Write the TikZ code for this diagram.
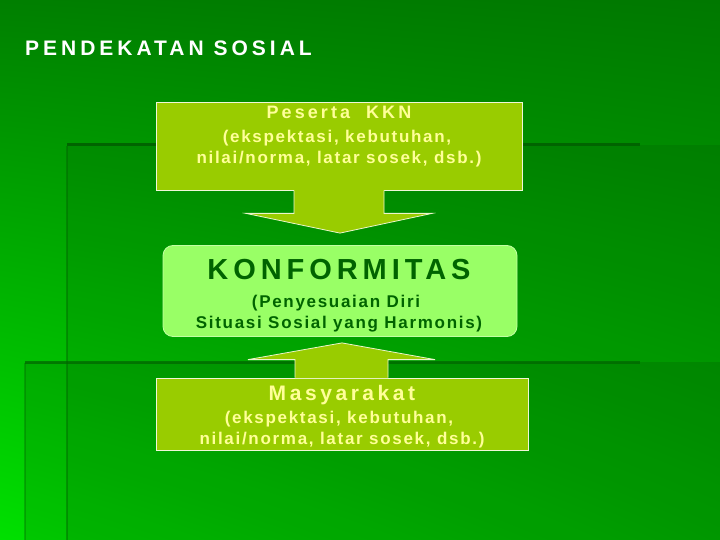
\documentclass[tikz,border=0pt]{standalone}
\usepackage{fontspec}
\setmainfont{Liberation Sans}
\newfontfamily\titlefnt[LetterSpace=19]{Liberation Sans}
\newfontfamily\headfnt[LetterSpace=17]{Liberation Sans}
\newfontfamily\subfnt[LetterSpace=10]{Liberation Sans}
\usetikzlibrary{calc,shadings}
\definecolor{boxfill}{HTML}{99CC00}
\definecolor{konffill}{HTML}{99FF66}
\definecolor{ytext}{HTML}{FFFF99}
\definecolor{gtext}{HTML}{006400}
\definecolor{bgTL}{HTML}{007F00}
\definecolor{bgTR}{HTML}{007800}
\definecolor{bgBL}{HTML}{00E000}
\definecolor{bgBR}{HTML}{00B800}
\definecolor{decoline}{HTML}{006400}
\tikzset{
  infobox/.style={rectangle, fill=boxfill, draw=white!85!boxfill, line width=0.8pt, inner sep=0pt},
  konfbox/.style={rectangle, rounded corners=10pt, fill=konffill, draw=white!40!konffill, line width=0.8pt, inner sep=0pt},
  ylabel/.style={text=ytext, inner sep=0pt, anchor=base, font=\bfseries},
  glabel/.style={text=gtext, inner sep=0pt, anchor=base, font=\bfseries},
  blockfill/.style={fill=boxfill},
  blockedge/.style={draw=white!80!boxfill, line width=0.8pt, line join=miter},
}
\begin{document}
\begin{tikzpicture}[x=1pt,y=-1pt]
\useasboundingbox (0,0) rectangle (720,540);
% background
\shade[upper left=bgTL, upper right=bgTR, lower left=bgBL, lower right=bgBR] (0,0) rectangle (720,540);
\fill[black, opacity=0.08] (67,145) rectangle (720,540);
\fill[black, opacity=0.10] (25,362) rectangle (720,540);
\draw[decoline, line width=3pt] (67,145) -- (640,145);
\draw[decoline, opacity=0.45, line width=2pt] (67,146) -- (67,540);
\draw[decoline, opacity=0.7, line width=3pt] (25,362) -- (640,362);
\draw[decoline, opacity=0.35, line width=2pt] (25,363) -- (25,540);

% title
\node[text=white, inner sep=0pt, anchor=base west, font=\bfseries] (title) at (25,56) {\titlefnt\fontsize{21}{24}\selectfont PENDEKATAN SOSIAL};

% boxes
\node[infobox, minimum width=366pt, minimum height=88pt] (top) at (339,146) {};
\node[konfbox, minimum width=354pt, minimum height=91pt] (konf) at (340,291) {};
\node[infobox, minimum width=372pt, minimum height=72pt] (bot) at (342,414) {};

% down arrow
\fill[blockfill] ($(top.south)+(-45,-0.5)$) -- ($(top.south)+(-45,23)$) -- ($(top.south)+(-93,23)$)
  -- ($(konf.north)+(0,-12)$) -- ($(top.south)+(93,23)$) -- ($(top.south)+(45,23)$) -- ($(top.south)+(45,-0.5)$) -- cycle;
\draw[blockedge] ($(top.south)+(-45,0)$) -- ($(top.south)+(-45,23)$) -- ($(top.south)+(-93,23)$)
  -- ($(konf.north)+(0,-12)$) -- ($(top.south)+(93,23)$) -- ($(top.south)+(45,23)$) -- ($(top.south)+(45,0)$);

% up arrow
\fill[blockfill] ($(bot.north)+(-47,0.5)$) -- ($(bot.north)+(-47,-18)$) -- ($(bot.north)+(-94,-18)$)
  -- ($(konf.south)+(2,6)$) -- ($(bot.north)+(93,-18)$) -- ($(bot.north)+(46,-18)$) -- ($(bot.north)+(46,0.5)$) -- cycle;
\draw[blockedge] ($(bot.north)+(-47,0)$) -- ($(bot.north)+(-47,-18)$) -- ($(bot.north)+(-94,-18)$)
  -- ($(konf.south)+(2,6)$) -- ($(bot.north)+(93,-18)$) -- ($(bot.north)+(46,-18)$) -- ($(bot.north)+(46,0)$);

% top box text
\node[ylabel] (t1) at (339,119) {\headfnt\fontsize{18}{20}\selectfont Peserta\ \ KKN};
\node[ylabel] (t2) at (337,143) {\subfnt\fontsize{17}{20}\selectfont (ekspektasi, kebutuhan,};
\node[ylabel] (t3) at (339,164) {\subfnt\fontsize{17}{20}\selectfont nilai/norma, latar sosek, dsb.)};

% konformitas text
\node[glabel] (k1) at (339,279) {\headfnt\fontsize{29}{32}\selectfont KONFORMITAS};
\node[glabel] (k2) at (336,307) {\subfnt\fontsize{17}{20}\selectfont (Penyesuaian Diri};
\node[glabel] (k3) at (339,328) {\subfnt\fontsize{17}{20}\selectfont Situasi Sosial yang Harmonis)};

% bottom box text
\node[ylabel] (b1) at (342,400) {\headfnt\fontsize{21}{24}\selectfont Masyarakat};
\node[ylabel] (b2) at (339,423) {\subfnt\fontsize{17}{20}\selectfont (ekspektasi, kebutuhan,};
\node[ylabel] (b3) at (342,444) {\subfnt\fontsize{17}{20}\selectfont nilai/norma, latar sosek, dsb.)};
\end{tikzpicture}
\end{document}
